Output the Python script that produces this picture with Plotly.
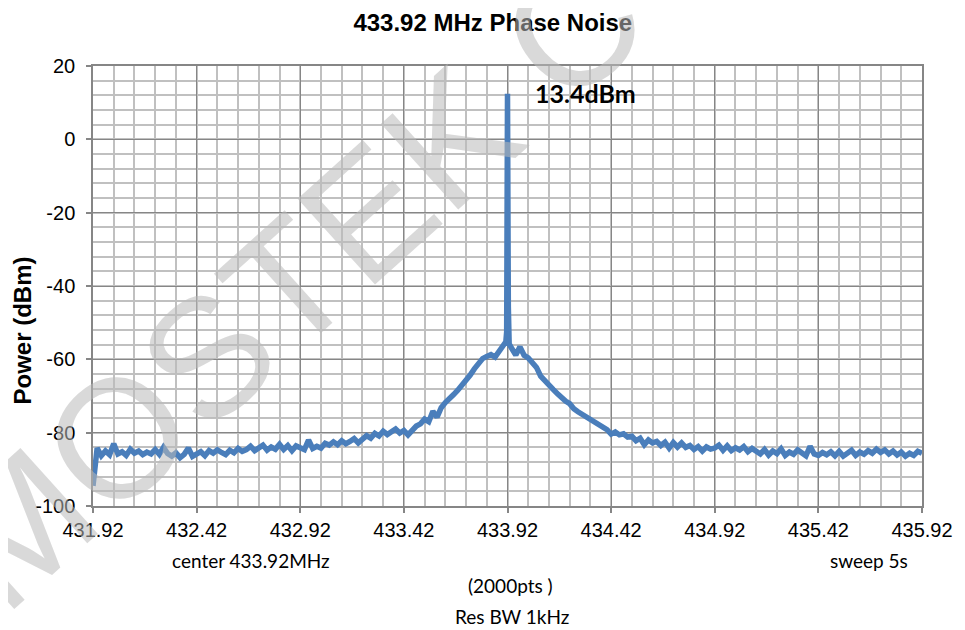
import plotly.graph_objects as go

# ---------------- data ----------------
f_start_mhz = 431.92
f_step_mhz = 0.02
power_dbm = [
    -94.5, -84.2, -86.3, -85.0, -86.0, -83.0, -85.8, -85.2, -86.2, -84.5,
    -85.6, -85.0, -86.0, -85.3, -85.8, -84.6, -85.9, -84.0, -85.7, -86.4,
    -85.5, -86.8, -85.9, -84.2, -86.5, -85.8, -85.2, -86.3, -84.9, -85.6,
    -84.7, -85.4, -86.0, -84.8, -85.5, -84.3, -85.1, -84.6, -83.7, -84.9,
    -84.2, -83.4, -84.8, -83.9, -84.5, -83.2, -84.6, -83.5, -84.9, -83.6,
    -84.1, -84.6, -82.0, -84.3, -83.7, -84.2, -82.9, -83.4, -82.5, -83.3,
    -82.2, -83.0, -82.4, -81.6, -82.8, -81.9, -80.8, -81.5, -80.2, -80.9,
    -79.6, -80.5, -79.8, -79.0, -80.1, -79.4, -80.6, -79.3, -78.2, -77.6,
    -76.3, -77.0, -74.2, -75.8, -73.2, -71.8, -70.9, -69.6, -68.4, -67.2,
    -66.0, -64.3, -62.6, -61.2, -59.8, -59.2, -58.7, -59.4, -57.6, -56.4,
    12.4,
    -57.0, -58.8, -56.6, -58.9, -59.6, -61.0, -62.2, -64.6, -66.0, -67.0,
    -68.2, -69.3, -70.6, -71.4, -72.1, -73.5, -74.3, -75.0, -75.8, -76.4,
    -77.1, -77.5, -78.6, -79.2, -80.4, -79.8, -80.6, -80.3, -81.2, -81.0,
    -82.2, -81.5, -83.3, -82.0, -82.8, -82.4, -83.5, -82.6, -84.2, -82.7,
    -83.9, -82.8, -84.0, -83.5, -84.6, -83.8, -85.0, -83.9, -84.5, -84.2,
    -83.4, -84.8, -83.6, -84.9, -84.1, -84.7, -83.8, -85.2, -84.3, -84.9,
    -85.8, -84.6, -86.1, -85.0, -85.7, -84.4, -86.2, -85.3, -85.9, -84.7,
    -85.4, -86.3, -83.7, -85.8, -86.2, -85.4, -86.0, -85.2, -86.3, -85.1,
    -86.4, -85.6, -84.8, -86.2, -85.3, -85.9, -84.9, -85.6, -84.5, -85.4,
    -84.7, -85.8, -85.0, -86.1, -85.3, -86.4, -85.6, -86.2, -85.1, -85.6,
]
# extra samples around the carrier skirt
carrier_mhz = [433.912, 433.916, 433.924, 433.928]
carrier_dbm = [-55.2, -52.5, -45.5, -55.8]

x_tick_vals = [431.92, 432.42, 432.92, 433.42, 433.92, 434.42, 434.92, 435.42, 435.92]
x_tick_text = ["431.92", "432.42", "432.92", "433.42", "433.92", "434.42", "434.92", "435.42", "435.92"]
y_tick_vals = [-100, -80, -60, -40, -20, 0, 20]

title_text = "433.92 MHz Phase Noise"
y_title = "Power (dBm)"
peak_label = "13.4dBm"
peak_label_mhz = 434.045
peak_label_dbm = 12.7

# ---------------- build series ----------------
pts = [(round(f_start_mhz + i * f_step_mhz, 4), v) for i, v in enumerate(power_dbm)]
pts += list(zip(carrier_mhz, carrier_dbm))
pts.sort(key=lambda p: p[0])
freq = [p[0] for p in pts]
pwr = [p[1] for p in pts]

AX = "#868686"
MINOR = "#c0c0c0"
BLUE = "#4a7ebb"
FONT = "Liberation Sans, Arial, sans-serif"
NOTE_FONT = "Lato, Calibri, sans-serif"

# the page body has an 8px margin, so the figure is 8px smaller than the window
W, H, OFF = 957, 622, 8
PL, PT, PW, PH = 93.3, 65.7, 835, 440   # plot area in window pixels


def px(x):
    return (x - PL) / PW


def py(y):
    return (PT + PH - y) / PH


fig = go.Figure()
fig.add_trace(go.Scatter(
    x=freq, y=pwr, mode="lines",
    line=dict(color=BLUE, width=5.5),
    showlegend=False, hoverinfo="x+y",
))

fig.update_layout(
    width=W, height=H,
    margin=dict(l=85, r=37, t=58, b=124),
    paper_bgcolor="white", plot_bgcolor="white",
    font=dict(family=FONT, color="#000000"),
    title=dict(
        text="<b>" + title_text + "</b>",
        font=dict(size=24, family=FONT, color="#000000"),
        x=px(496), xref="paper", xanchor="center",
        y=1 - (23 - OFF) / H, yref="container", yanchor="middle",
    ),
)

fig.update_xaxes(
    range=[431.92, 435.92],
    tickmode="array", tickvals=x_tick_vals, ticktext=x_tick_text,
    tickfont=dict(size=20, family=FONT, color="#000000"),
    ticks="outside", ticklen=5, tickwidth=1.5, tickcolor=AX,
    ticklabelstandoff=0,
    showgrid=True, gridcolor=AX, gridwidth=1.3,
    showline=True, linecolor=AX, linewidth=1.5, mirror=True,
    zeroline=False,
    minor=dict(tickmode="linear", tick0=431.92, dtick=0.1,
               showgrid=True, gridcolor=MINOR, gridwidth=1.6, ticks=""),
)
fig.update_yaxes(
    range=[-100, 20],
    tickmode="array", tickvals=y_tick_vals,
    ticktext=[str(v) for v in y_tick_vals],
    tickfont=dict(size=20, family=FONT, color="#000000"),
    ticks="outside", ticklen=5, tickwidth=1.5, tickcolor=AX,
    ticklabelstandoff=7,
    showgrid=True, gridcolor=AX, gridwidth=1.3,
    showline=True, linecolor=AX, linewidth=1.5, mirror=True,
    zeroline=False,
    minor=dict(tickmode="linear", tick0=-100, dtick=4,
               showgrid=True, gridcolor=MINOR, gridwidth=1.6, ticks=""),
)

# watermark
fig.add_annotation(
    text="MOSTEK CO", xref="paper", yref="paper",
    x=px(342), y=py(238), xanchor="center", yanchor="middle",
    textangle=-42, showarrow=False,
    font=dict(size=168, family=FONT, color="rgba(186,186,186,0.55)"),
)

# peak label
fig.add_annotation(
    text="<b>" + peak_label + "</b>", x=peak_label_mhz, y=peak_label_dbm,
    xref="x", yref="y", xanchor="left", yanchor="middle", showarrow=False,
    font=dict(size=25, family=NOTE_FONT, color="#000000"),
)

# y axis title
fig.add_annotation(
    text="<b>" + y_title + "</b>", xref="paper", yref="paper",
    x=px(22), y=py(330),
    xanchor="center", yanchor="middle", textangle=-90, showarrow=False,
    font=dict(size=24, family=FONT, color="#000000"),
)

# notes under the axis
notes = [
    ("center 433.92MHz", 252, 560),
    ("sweep 5s", 875, 560),
    ("(2000pts )", 514, 585),
    ("Res BW 1kHz", 515, 616),
]
for txt, nx, ny in notes:
    fig.add_annotation(
        text=txt, xref="paper", yref="paper",
        x=px(nx), y=py(ny),
        xanchor="center", yanchor="middle", showarrow=False,
        font=dict(size=19, family=NOTE_FONT, color="#000000"),
    )

fig.write_html("out.html")
